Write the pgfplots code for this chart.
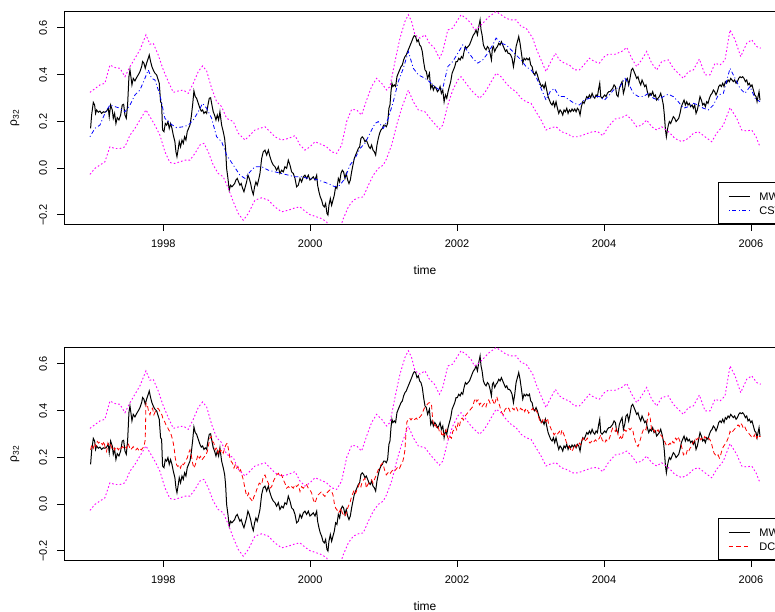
\documentclass[border=0pt]{standalone}
\usepackage{fontspec}
\setmainfont{Liberation Sans}
\usepackage{pgfplots}
\usepackage{pgfplotstable}
\pgfplotsset{compat=1.18}

\definecolor{rmag}{RGB}{255,0,255}
\definecolor{rblue}{RGB}{0,0,255}
\definecolor{rred}{RGB}{255,0,0}

% moving-window estimate (MW)
\pgfplotstableread{
x y
1997.010 0.170
1997.024 0.227
1997.047 0.281
1997.065 0.270
1997.078 0.234
1997.092 0.249
1997.115 0.239
1997.137 0.244
1997.160 0.234
1997.183 0.241
1997.205 0.239
1997.228 0.244
1997.251 0.256
1997.264 0.220
1997.283 0.270
1997.305 0.249
1997.319 0.213
1997.337 0.234
1997.355 0.191
1997.373 0.216
1997.396 0.206
1997.419 0.227
1997.441 0.270
1997.460 0.273
1997.478 0.227
1997.496 0.213
1997.514 0.270
1997.532 0.391
1997.546 0.420
1997.559 0.391
1997.573 0.356
1997.591 0.384
1997.614 0.373
1997.636 0.387
1997.659 0.399
1997.682 0.413
1997.705 0.434
1997.718 0.456
1997.736 0.449
1997.754 0.427
1997.773 0.449
1997.795 0.470
1997.809 0.484
1997.827 0.456
1997.845 0.434
1997.863 0.420
1997.886 0.406
1997.909 0.399
1997.931 0.377
1997.945 0.363
1997.963 0.284
1997.977 0.277
1997.990 0.163
1998.009 0.156
1998.027 0.191
1998.045 0.184
1998.063 0.199
1998.081 0.170
1998.099 0.191
1998.118 0.170
1998.136 0.141
1998.158 0.113
1998.172 0.070
1998.186 0.049
1998.204 0.084
1998.217 0.113
1998.235 0.091
1998.254 0.120
1998.272 0.106
1998.290 0.134
1998.308 0.120
1998.326 0.156
1998.344 0.170
1998.363 0.184
1998.381 0.220
1998.399 0.270
1998.417 0.330
1998.435 0.306
1998.453 0.299
1998.476 0.277
1998.499 0.256
1998.517 0.244
1998.535 0.249
1998.553 0.234
1998.571 0.241
1998.590 0.234
1998.608 0.270
1998.626 0.299
1998.644 0.301
1998.662 0.270
1998.680 0.241
1998.698 0.227
1998.717 0.206
1998.735 0.227
1998.753 0.206
1998.771 0.241
1998.794 0.184
1998.816 0.156
1998.835 0.127
1998.848 0.084
1998.862 -0.001
1998.880 -0.044
1998.898 -0.094
1998.916 -0.073
1998.934 -0.080
1998.953 -0.073
1998.971 -0.066
1998.989 -0.051
1999.007 -0.044
1999.025 -0.059
1999.043 -0.073
1999.061 -0.066
1999.080 -0.087
1999.098 -0.101
1999.116 -0.080
1999.134 -0.059
1999.152 -0.030
1999.170 -0.044
1999.189 -0.066
1999.207 -0.094
1999.225 -0.113
1999.243 -0.080
1999.261 -0.059
1999.279 -0.073
1999.297 -0.051
1999.316 -0.023
1999.339 0.041
1999.361 0.070
1999.384 0.077
1999.407 0.056
1999.430 0.077
1999.452 0.049
1999.475 0.027
1999.498 0.013
1999.520 0.006
1999.543 -0.009
1999.566 0.006
1999.588 -0.023
1999.611 -0.009
1999.634 -0.016
1999.656 0.006
1999.679 -0.001
1999.702 0.034
1999.725 0.013
1999.747 -0.016
1999.770 -0.023
1999.793 -0.044
1999.815 -0.080
1999.838 -0.073
1999.861 -0.044
1999.883 -0.059
1999.906 -0.037
1999.929 -0.030
1999.951 -0.044
1999.974 -0.030
1999.997 -0.051
2000.020 -0.044
2000.042 -0.037
2000.065 -0.051
2000.088 -0.030
2000.101 -0.073
2000.119 -0.101
2000.137 -0.123
2000.156 -0.137
2000.174 -0.159
2000.192 -0.166
2000.210 -0.151
2000.228 -0.194
2000.242 -0.201
2000.255 -0.159
2000.274 -0.130
2000.292 -0.159
2000.310 -0.137
2000.328 -0.116
2000.346 -0.080
2000.364 -0.087
2000.383 -0.044
2000.401 -0.059
2000.419 -0.023
2000.437 -0.009
2000.455 -0.016
2000.473 -0.044
2000.491 -0.023
2000.510 -0.051
2000.528 -0.066
2000.546 -0.051
2000.564 -0.016
2000.582 0.013
2000.600 0.041
2000.619 0.056
2000.637 0.070
2000.655 0.084
2000.673 0.091
2000.691 0.127
2000.709 0.134
2000.727 0.127
2000.746 0.113
2000.764 0.120
2000.782 0.106
2000.800 0.091
2000.818 0.084
2000.836 0.099
2000.855 0.077
2000.873 0.070
2000.891 0.056
2000.909 0.099
2000.927 0.127
2000.945 0.149
2000.963 0.163
2000.982 0.170
2001.000 0.184
2001.018 0.184
2001.036 0.177
2001.054 0.191
2001.072 0.256
2001.086 0.270
2001.100 0.327
2001.113 0.363
2001.127 0.349
2001.145 0.356
2001.163 0.349
2001.181 0.391
2001.199 0.406
2001.218 0.420
2001.236 0.434
2001.254 0.441
2001.272 0.463
2001.290 0.477
2001.308 0.484
2001.326 0.499
2001.345 0.513
2001.363 0.527
2001.381 0.541
2001.399 0.556
2001.417 0.567
2001.435 0.563
2001.454 0.541
2001.472 0.549
2001.490 0.527
2001.508 0.520
2001.526 0.499
2001.544 0.456
2001.563 0.420
2001.581 0.413
2001.599 0.384
2001.623 0.406
2001.641 0.341
2001.659 0.356
2001.677 0.334
2001.696 0.349
2001.714 0.341
2001.732 0.327
2001.750 0.334
2001.768 0.349
2001.786 0.320
2001.805 0.334
2001.823 0.284
2001.841 0.313
2001.859 0.299
2001.877 0.327
2001.895 0.349
2001.913 0.370
2001.932 0.406
2001.950 0.420
2001.968 0.434
2001.986 0.456
2002.004 0.456
2002.022 0.470
2002.041 0.463
2002.059 0.477
2002.077 0.470
2002.095 0.499
2002.113 0.520
2002.131 0.513
2002.149 0.520
2002.168 0.527
2002.186 0.541
2002.204 0.556
2002.222 0.570
2002.240 0.577
2002.258 0.591
2002.277 0.570
2002.295 0.606
2002.313 0.634
2002.326 0.591
2002.340 0.570
2002.358 0.527
2002.376 0.513
2002.394 0.506
2002.413 0.520
2002.431 0.513
2002.449 0.491
2002.467 0.463
2002.481 0.513
2002.494 0.520
2002.512 0.499
2002.531 0.513
2002.549 0.520
2002.567 0.534
2002.585 0.527
2002.603 0.541
2002.621 0.527
2002.640 0.513
2002.658 0.499
2002.676 0.506
2002.694 0.491
2002.712 0.491
2002.730 0.484
2002.748 0.470
2002.767 0.434
2002.785 0.470
2002.803 0.520
2002.821 0.541
2002.839 0.563
2002.857 0.534
2002.876 0.491
2002.894 0.449
2002.912 0.470
2002.930 0.463
2002.948 0.470
2002.966 0.463
2002.985 0.470
2003.003 0.441
2003.021 0.434
2003.039 0.406
2003.057 0.399
2003.075 0.413
2003.093 0.399
2003.112 0.377
2003.130 0.363
2003.148 0.349
2003.166 0.356
2003.184 0.341
2003.202 0.363
2003.220 0.334
2003.239 0.306
2003.257 0.291
2003.275 0.277
2003.293 0.270
2003.311 0.284
2003.329 0.263
2003.347 0.284
2003.366 0.256
2003.384 0.234
2003.402 0.249
2003.420 0.241
2003.438 0.227
2003.456 0.249
2003.474 0.241
2003.493 0.256
2003.511 0.234
2003.529 0.249
2003.547 0.241
2003.565 0.253
2003.583 0.244
2003.602 0.253
2003.620 0.241
2003.638 0.256
2003.656 0.249
2003.674 0.227
2003.692 0.263
2003.711 0.284
2003.729 0.277
2003.747 0.291
2003.765 0.306
2003.783 0.299
2003.801 0.313
2003.819 0.301
2003.838 0.320
2003.856 0.306
2003.874 0.299
2003.892 0.313
2003.910 0.306
2003.928 0.341
2003.942 0.363
2003.956 0.306
2003.974 0.299
2003.992 0.306
2004.010 0.313
2004.028 0.306
2004.046 0.320
2004.065 0.327
2004.082 0.327
2004.100 0.334
2004.118 0.341
2004.137 0.356
2004.155 0.349
2004.173 0.313
2004.191 0.306
2004.209 0.341
2004.227 0.356
2004.246 0.370
2004.264 0.320
2004.282 0.341
2004.300 0.377
2004.318 0.384
2004.336 0.356
2004.354 0.384
2004.373 0.420
2004.391 0.427
2004.409 0.413
2004.427 0.399
2004.445 0.384
2004.463 0.391
2004.481 0.370
2004.500 0.356
2004.518 0.377
2004.536 0.363
2004.554 0.349
2004.572 0.356
2004.590 0.327
2004.609 0.306
2004.627 0.320
2004.645 0.313
2004.663 0.327
2004.681 0.306
2004.699 0.313
2004.717 0.291
2004.736 0.299
2004.754 0.306
2004.772 0.320
2004.790 0.299
2004.808 0.270
2004.822 0.227
2004.835 0.170
2004.849 0.134
2004.863 0.163
2004.876 0.184
2004.890 0.199
2004.908 0.191
2004.926 0.206
2004.944 0.220
2004.963 0.213
2004.981 0.199
2004.999 0.206
2005.017 0.213
2005.035 0.234
2005.053 0.263
2005.071 0.277
2005.090 0.291
2005.108 0.270
2005.126 0.284
2005.144 0.270
2005.162 0.277
2005.180 0.263
2005.199 0.270
2005.217 0.256
2005.235 0.270
2005.253 0.234
2005.271 0.249
2005.289 0.277
2005.307 0.306
2005.326 0.291
2005.344 0.270
2005.362 0.277
2005.380 0.263
2005.398 0.284
2005.416 0.277
2005.435 0.299
2005.453 0.313
2005.471 0.320
2005.489 0.334
2005.507 0.327
2005.525 0.313
2005.543 0.327
2005.562 0.349
2005.580 0.356
2005.598 0.349
2005.616 0.363
2005.634 0.349
2005.652 0.370
2005.670 0.363
2005.689 0.377
2005.707 0.370
2005.725 0.384
2005.743 0.377
2005.761 0.370
2005.779 0.377
2005.798 0.363
2005.816 0.370
2005.834 0.384
2005.852 0.391
2005.870 0.387
2005.888 0.391
2005.906 0.384
2005.925 0.370
2005.943 0.377
2005.961 0.356
2005.979 0.363
2005.997 0.349
2006.015 0.356
2006.034 0.334
2006.052 0.313
2006.070 0.306
2006.084 0.284
2006.097 0.306
2006.111 0.327
2006.124 0.291
}\mwdata

% CS estimate
\pgfplotstableread{
x y
1997.001 0.134
1997.069 0.170
1997.137 0.184
1997.205 0.234
1997.273 0.270
1997.342 0.263
1997.410 0.256
1997.478 0.241
1997.546 0.270
1997.614 0.313
1997.682 0.334
1997.750 0.384
1997.795 0.420
1997.841 0.384
1997.886 0.377
1997.954 0.313
1998.022 0.213
1998.090 0.191
1998.181 0.173
1998.272 0.177
1998.340 0.184
1998.408 0.206
1998.476 0.241
1998.535 0.277
1998.590 0.256
1998.658 0.213
1998.726 0.134
1998.794 0.113
1998.862 0.056
1998.953 0.013
1999.043 -0.030
1999.112 -0.044
1999.180 -0.016
1999.248 0.006
1999.339 0.006
1999.430 -0.009
1999.520 -0.016
1999.611 -0.023
1999.702 -0.030
1999.793 -0.037
1999.883 -0.037
1999.974 -0.044
2000.065 -0.047
2000.156 -0.056
2000.246 -0.066
2000.337 -0.080
2000.405 -0.073
2000.473 -0.044
2000.541 0.013
2000.610 0.041
2000.678 0.084
2000.746 0.106
2000.814 0.149
2000.882 0.191
2000.927 0.199
2000.995 0.170
2001.063 0.213
2001.131 0.284
2001.199 0.370
2001.268 0.427
2001.336 0.499
2001.404 0.427
2001.472 0.399
2001.563 0.384
2001.623 0.370
2001.691 0.349
2001.759 0.334
2001.805 0.341
2001.873 0.434
2001.941 0.456
2002.009 0.491
2002.077 0.527
2002.145 0.499
2002.213 0.470
2002.281 0.449
2002.349 0.463
2002.417 0.491
2002.485 0.527
2002.531 0.556
2002.599 0.534
2002.667 0.527
2002.735 0.506
2002.803 0.484
2002.871 0.463
2002.939 0.434
2003.007 0.420
2003.075 0.391
2003.143 0.341
2003.211 0.291
2003.266 0.327
2003.325 0.341
2003.393 0.306
2003.461 0.306
2003.529 0.291
2003.597 0.277
2003.665 0.270
2003.733 0.291
2003.801 0.299
2003.869 0.306
2003.937 0.306
2004.005 0.291
2004.074 0.313
2004.128 0.334
2004.218 0.349
2004.286 0.384
2004.332 0.363
2004.400 0.320
2004.468 0.306
2004.536 0.306
2004.604 0.320
2004.672 0.299
2004.740 0.291
2004.808 0.306
2004.876 0.316
2004.944 0.306
2005.012 0.284
2005.081 0.256
2005.149 0.263
2005.217 0.277
2005.285 0.270
2005.353 0.256
2005.421 0.249
2005.489 0.270
2005.557 0.313
2005.625 0.320
2005.716 0.427
2005.784 0.384
2005.852 0.341
2005.920 0.320
2005.988 0.349
2006.056 0.299
2006.124 0.284
}\csdata

% DCC estimate
\pgfplotstableread{
x y
1997.010 0.232
1997.028 0.254
1997.047 0.239
1997.065 0.261
1997.083 0.246
1997.101 0.268
1997.119 0.261
1997.137 0.268
1997.155 0.261
1997.174 0.254
1997.192 0.268
1997.210 0.239
1997.228 0.225
1997.246 0.261
1997.264 0.246
1997.283 0.254
1997.301 0.239
1997.319 0.246
1997.337 0.232
1997.355 0.246
1997.373 0.239
1997.391 0.232
1997.410 0.246
1997.428 0.239
1997.446 0.246
1997.464 0.239
1997.482 0.246
1997.500 0.239
1997.518 0.261
1997.537 0.246
1997.555 0.232
1997.573 0.239
1997.591 0.246
1997.609 0.239
1997.627 0.232
1997.646 0.239
1997.664 0.232
1997.682 0.239
1997.700 0.232
1997.718 0.239
1997.736 0.246
1997.754 0.275
1997.764 0.432
1997.782 0.425
1997.800 0.396
1997.818 0.382
1997.836 0.403
1997.854 0.410
1997.872 0.382
1997.891 0.396
1997.909 0.403
1997.927 0.410
1997.945 0.403
1997.963 0.389
1997.981 0.382
1998.000 0.360
1998.018 0.353
1998.036 0.339
1998.054 0.332
1998.072 0.318
1998.090 0.311
1998.108 0.296
1998.127 0.275
1998.145 0.246
1998.163 0.197
1998.181 0.168
1998.199 0.161
1998.217 0.168
1998.235 0.154
1998.254 0.175
1998.272 0.168
1998.290 0.175
1998.308 0.189
1998.326 0.197
1998.344 0.218
1998.363 0.232
1998.381 0.211
1998.399 0.175
1998.417 0.154
1998.435 0.168
1998.453 0.189
1998.472 0.211
1998.490 0.197
1998.508 0.204
1998.526 0.189
1998.544 0.197
1998.562 0.204
1998.580 0.211
1998.599 0.225
1998.617 0.254
1998.635 0.282
1998.653 0.289
1998.671 0.268
1998.689 0.261
1998.707 0.232
1998.726 0.239
1998.744 0.218
1998.762 0.239
1998.780 0.225
1998.798 0.232
1998.816 0.218
1998.835 0.239
1998.853 0.254
1998.871 0.261
1998.889 0.232
1998.907 0.197
1998.925 0.182
1998.943 0.175
1998.962 0.154
1998.980 0.168
1998.998 0.154
1999.016 0.161
1999.034 0.140
1999.052 0.147
1999.071 0.125
1999.089 0.104
1999.107 0.075
1999.125 0.047
1999.143 0.033
1999.161 0.047
1999.179 0.026
1999.198 0.019
1999.216 0.011
1999.234 0.033
1999.252 0.040
1999.270 0.061
1999.288 0.075
1999.306 0.090
1999.339 0.083
1999.361 0.118
1999.384 0.125
1999.407 0.104
1999.430 0.090
1999.452 0.068
1999.475 0.075
1999.498 0.097
1999.520 0.111
1999.543 0.125
1999.566 0.132
1999.588 0.118
1999.611 0.125
1999.634 0.104
1999.656 0.090
1999.679 0.068
1999.702 0.075
1999.725 0.068
1999.747 0.075
1999.770 0.068
1999.793 0.083
1999.815 0.075
1999.838 0.083
1999.861 0.054
1999.883 0.075
1999.906 0.068
1999.929 0.075
1999.951 0.083
1999.974 0.068
1999.997 0.061
2000.020 0.047
2000.042 0.019
2000.065 0.004
2000.088 0.026
2000.110 0.040
2000.133 0.047
2000.156 0.054
2000.178 0.040
2000.201 0.033
2000.224 0.047
2000.246 0.054
2000.269 0.061
2000.292 0.054
2000.310 0.040
2000.328 0.004
2000.346 -0.017
2000.364 -0.024
2000.383 -0.038
2000.401 -0.031
2000.419 -0.017
2000.437 -0.038
2000.455 -0.046
2000.473 -0.053
2000.491 -0.038
2000.510 -0.017
2000.528 -0.003
2000.546 0.011
2000.564 0.033
2000.582 0.047
2000.600 0.061
2000.619 0.047
2000.637 0.061
2000.655 0.075
2000.673 0.090
2000.691 0.075
2000.709 0.097
2000.727 0.104
2000.746 0.111
2000.764 0.068
2000.782 0.083
2000.800 0.090
2000.818 0.097
2000.836 0.104
2000.855 0.090
2000.873 0.104
2000.891 0.118
2000.909 0.132
2000.927 0.147
2000.945 0.154
2000.963 0.168
2000.982 0.175
2001.000 0.161
2001.018 0.140
2001.036 0.125
2001.054 0.132
2001.072 0.140
2001.091 0.132
2001.109 0.140
2001.127 0.147
2001.145 0.140
2001.163 0.147
2001.181 0.154
2001.199 0.161
2001.218 0.154
2001.236 0.168
2001.254 0.175
2001.272 0.197
2001.290 0.232
2001.304 0.303
2001.317 0.353
2001.336 0.360
2001.354 0.368
2001.372 0.360
2001.390 0.368
2001.408 0.360
2001.426 0.363
2001.445 0.368
2001.463 0.360
2001.481 0.368
2001.499 0.375
2001.517 0.382
2001.535 0.396
2001.553 0.410
2001.572 0.417
2001.590 0.425
2001.608 0.432
2001.623 0.434
2001.650 0.432
2001.668 0.360
2001.687 0.332
2001.705 0.339
2001.723 0.325
2001.741 0.332
2001.759 0.311
2001.777 0.318
2001.795 0.289
2001.814 0.303
2001.832 0.296
2001.850 0.318
2001.868 0.289
2001.886 0.275
2001.904 0.289
2001.923 0.282
2001.941 0.311
2001.959 0.318
2001.977 0.332
2001.995 0.318
2002.013 0.346
2002.031 0.332
2002.050 0.360
2002.068 0.368
2002.086 0.360
2002.104 0.375
2002.122 0.382
2002.140 0.389
2002.159 0.396
2002.177 0.403
2002.195 0.410
2002.213 0.417
2002.231 0.439
2002.249 0.453
2002.267 0.439
2002.286 0.446
2002.304 0.425
2002.322 0.432
2002.340 0.417
2002.358 0.425
2002.376 0.432
2002.394 0.417
2002.413 0.439
2002.431 0.446
2002.449 0.432
2002.467 0.439
2002.485 0.446
2002.503 0.425
2002.522 0.439
2002.540 0.460
2002.558 0.439
2002.576 0.425
2002.594 0.403
2002.612 0.389
2002.630 0.382
2002.649 0.403
2002.667 0.410
2002.685 0.403
2002.703 0.410
2002.721 0.396
2002.739 0.403
2002.758 0.410
2002.776 0.403
2002.794 0.417
2002.812 0.410
2002.830 0.396
2002.848 0.403
2002.866 0.410
2002.885 0.403
2002.903 0.410
2002.921 0.396
2002.939 0.410
2002.957 0.403
2002.975 0.389
2002.994 0.396
2003.012 0.403
2003.030 0.410
2003.048 0.396
2003.066 0.403
2003.084 0.396
2003.103 0.382
2003.121 0.360
2003.139 0.346
2003.157 0.353
2003.175 0.368
2003.193 0.360
2003.211 0.353
2003.230 0.368
2003.248 0.339
2003.266 0.332
2003.284 0.318
2003.302 0.311
2003.320 0.296
2003.338 0.303
2003.357 0.296
2003.375 0.303
2003.393 0.311
2003.411 0.296
2003.429 0.318
2003.447 0.303
2003.465 0.289
2003.484 0.268
2003.502 0.254
2003.520 0.246
2003.538 0.239
2003.556 0.225
2003.574 0.232
2003.593 0.246
2003.611 0.239
2003.629 0.254
2003.647 0.246
2003.665 0.261
2003.683 0.254
2003.701 0.275
2003.720 0.282
2003.738 0.268
2003.756 0.275
2003.774 0.282
2003.792 0.268
2003.810 0.261
2003.829 0.268
2003.847 0.275
2003.865 0.268
2003.883 0.275
2003.901 0.268
2003.919 0.275
2003.937 0.282
2003.956 0.296
2003.974 0.275
2003.992 0.268
2004.010 0.261
2004.028 0.275
2004.046 0.268
2004.065 0.275
2004.082 0.289
2004.100 0.311
2004.118 0.325
2004.137 0.318
2004.155 0.311
2004.173 0.325
2004.191 0.296
2004.209 0.282
2004.227 0.289
2004.246 0.275
2004.264 0.303
2004.282 0.318
2004.300 0.311
2004.318 0.318
2004.336 0.325
2004.354 0.318
2004.373 0.325
2004.391 0.318
2004.409 0.289
2004.427 0.268
2004.445 0.254
2004.463 0.246
2004.481 0.261
2004.500 0.282
2004.518 0.303
2004.536 0.318
2004.554 0.325
2004.572 0.318
2004.590 0.360
2004.609 0.389
2004.627 0.375
2004.645 0.325
2004.663 0.311
2004.681 0.318
2004.699 0.303
2004.717 0.311
2004.736 0.318
2004.754 0.303
2004.772 0.296
2004.790 0.289
2004.808 0.275
2004.826 0.268
2004.844 0.254
2004.863 0.261
2004.881 0.254
2004.899 0.261
2004.917 0.254
2004.935 0.268
2004.953 0.261
2004.972 0.282
2004.990 0.275
2005.008 0.289
2005.026 0.275
2005.044 0.261
2005.062 0.239
2005.081 0.211
2005.099 0.218
2005.117 0.211
2005.135 0.232
2005.153 0.225
2005.171 0.239
2005.189 0.246
2005.208 0.261
2005.226 0.268
2005.244 0.282
2005.262 0.275
2005.280 0.282
2005.298 0.289
2005.317 0.275
2005.335 0.282
2005.353 0.275
2005.371 0.289
2005.389 0.282
2005.407 0.275
2005.425 0.282
2005.444 0.275
2005.462 0.261
2005.480 0.239
2005.498 0.218
2005.516 0.211
2005.534 0.204
2005.553 0.211
2005.571 0.197
2005.589 0.211
2005.607 0.232
2005.625 0.246
2005.643 0.254
2005.661 0.261
2005.680 0.275
2005.698 0.289
2005.716 0.311
2005.734 0.303
2005.752 0.311
2005.770 0.318
2005.789 0.325
2005.807 0.332
2005.825 0.339
2005.843 0.332
2005.861 0.346
2005.879 0.339
2005.897 0.325
2005.916 0.332
2005.934 0.318
2005.952 0.311
2005.970 0.303
2005.988 0.296
2006.006 0.289
2006.024 0.296
2006.043 0.289
2006.061 0.303
2006.079 0.282
2006.097 0.296
2006.115 0.289
2006.133 0.289
}\dccdata

% upper band
\pgfplotstableread{
x y
1997.001 0.324
1997.137 0.356
1997.205 0.363
1997.273 0.441
1997.342 0.430
1997.410 0.427
1997.478 0.391
1997.546 0.434
1997.614 0.470
1997.682 0.506
1997.764 0.570
1997.818 0.530
1997.863 0.534
1997.931 0.484
1998.000 0.420
1998.068 0.370
1998.136 0.324
1998.204 0.330
1998.272 0.334
1998.340 0.320
1998.408 0.363
1998.476 0.413
1998.535 0.437
1998.590 0.416
1998.658 0.341
1998.726 0.284
1998.794 0.263
1998.862 0.213
1998.953 0.199
1999.021 0.149
1999.112 0.120
1999.180 0.141
1999.248 0.163
1999.316 0.170
1999.384 0.177
1999.452 0.156
1999.520 0.134
1999.611 0.120
1999.702 0.127
1999.793 0.139
1999.861 0.099
1999.929 0.077
1999.997 0.091
2000.065 0.113
2000.156 0.101
2000.224 0.091
2000.292 0.070
2000.360 0.063
2000.428 0.099
2000.496 0.199
2000.564 0.251
2000.632 0.249
2000.700 0.227
2000.768 0.291
2000.836 0.349
2000.904 0.384
2000.973 0.363
2001.041 0.334
2001.086 0.349
2001.154 0.456
2001.222 0.556
2001.290 0.627
2001.336 0.656
2001.381 0.627
2001.426 0.570
2001.494 0.556
2001.563 0.570
2001.623 0.534
2001.691 0.513
2001.759 0.470
2001.805 0.499
2001.873 0.591
2001.941 0.599
2002.009 0.634
2002.054 0.656
2002.122 0.641
2002.190 0.620
2002.236 0.591
2002.281 0.599
2002.349 0.620
2002.440 0.649
2002.531 0.670
2002.599 0.656
2002.667 0.641
2002.735 0.634
2002.803 0.634
2002.871 0.606
2002.939 0.599
2002.985 0.577
2003.030 0.556
2003.075 0.513
2003.143 0.463
2003.211 0.413
2003.266 0.449
2003.338 0.491
2003.393 0.463
2003.461 0.449
2003.529 0.441
2003.597 0.420
2003.665 0.420
2003.733 0.444
2003.801 0.470
2003.869 0.456
2003.937 0.449
2004.005 0.477
2004.059 0.487
2004.150 0.487
2004.241 0.499
2004.309 0.516
2004.377 0.470
2004.445 0.434
2004.513 0.463
2004.581 0.499
2004.649 0.449
2004.718 0.420
2004.786 0.456
2004.876 0.463
2004.944 0.427
2005.012 0.406
2005.081 0.384
2005.149 0.413
2005.217 0.420
2005.298 0.467
2005.375 0.399
2005.444 0.399
2005.512 0.449
2005.580 0.441
2005.648 0.463
2005.716 0.591
2005.784 0.549
2005.861 0.477
2005.943 0.534
2006.011 0.549
2006.079 0.520
2006.133 0.513
}\updata

% lower band
\pgfplotstableread{
x y
1997.001 -0.027
1997.069 -0.001
1997.137 0.013
1997.205 0.027
1997.273 0.091
1997.342 0.084
1997.410 0.084
1997.478 0.091
1997.546 0.141
1997.614 0.170
1997.682 0.206
1997.764 0.249
1997.818 0.220
1997.886 0.184
1997.954 0.141
1998.022 0.070
1998.090 0.024
1998.158 0.020
1998.226 0.027
1998.295 0.034
1998.363 0.034
1998.431 0.063
1998.499 0.099
1998.553 0.106
1998.612 0.070
1998.680 0.013
1998.748 -0.023
1998.816 -0.037
1998.885 -0.087
1998.953 -0.144
1999.021 -0.194
1999.089 -0.223
1999.157 -0.194
1999.225 -0.151
1999.248 -0.137
1999.339 -0.127
1999.430 -0.137
1999.520 -0.166
1999.611 -0.187
1999.702 -0.180
1999.793 -0.170
1999.861 -0.166
1999.929 -0.184
1999.997 -0.199
2000.065 -0.206
2000.156 -0.216
2000.224 -0.230
2000.269 -0.259
2000.337 -0.287
2000.405 -0.259
2000.451 -0.216
2000.519 -0.166
2000.587 -0.137
2000.655 -0.127
2000.723 -0.123
2000.791 -0.073
2000.859 -0.030
2000.927 -0.001
2000.995 0.013
2001.041 0.041
2001.109 0.099
2001.177 0.184
2001.245 0.256
2001.336 0.334
2001.404 0.284
2001.472 0.249
2001.563 0.241
2001.631 0.213
2001.691 0.191
2001.759 0.167
2001.805 0.184
2001.873 0.270
2001.941 0.334
2002.009 0.377
2002.054 0.391
2002.122 0.363
2002.190 0.334
2002.258 0.313
2002.304 0.299
2002.372 0.320
2002.440 0.356
2002.531 0.406
2002.599 0.391
2002.667 0.363
2002.735 0.341
2002.803 0.327
2002.871 0.299
2002.939 0.284
2003.007 0.277
2003.075 0.241
2003.143 0.206
2003.211 0.163
2003.280 0.173
2003.348 0.177
2003.416 0.156
2003.484 0.149
2003.575 0.134
2003.643 0.134
2003.711 0.141
2003.779 0.149
2003.847 0.156
2003.915 0.156
2003.983 0.139
2004.059 0.177
2004.150 0.210
2004.241 0.216
2004.309 0.227
2004.377 0.206
2004.445 0.177
2004.513 0.184
2004.581 0.206
2004.649 0.177
2004.718 0.163
2004.786 0.177
2004.876 0.156
2004.967 0.127
2005.058 0.113
2005.149 0.127
2005.217 0.149
2005.285 0.156
2005.375 0.134
2005.466 0.113
2005.534 0.149
2005.625 0.184
2005.716 0.259
2005.807 0.213
2005.875 0.163
2005.943 0.159
2006.011 0.163
2006.070 0.134
2006.124 0.091
}\lodata

\pgfplotsset{
  rpanel/.style={
    scale only axis, width=722bp, height=212.5bp,
    xmin=1996.648, xmax=2006.478, ymin=-0.239, ymax=0.670,
    axis line style={line width=0.8bp, black},
    xtick={1998,2000,2002,2004,2006},
    xticklabels={1998,2000,2002,2004,2006},
    ytick={-0.2,0,0.2,0.4,0.6},
    yticklabels={−0.2,0.0,0.2,0.4,0.6},
    tick align=outside, xtick pos=left, ytick pos=left,
    major tick length=7bp,
    every tick/.style={black, line width=0.8bp},
    tick label style={font=\fontsize{11bp}{13bp}\selectfont},
    xticklabel style={anchor=center, yshift=-12.7bp},
    yticklabel style={anchor=center, xshift=-14bp, rotate=90},
    xlabel={time},
    ylabel={ρ\textsubscript{32}},
    every axis x label/.style={at={(rel axis cs:0.5,0)}, yshift=-46bp, anchor=center, font=\fontsize{12bp}{14bp}\selectfont},
    every axis y label/.style={at={(rel axis cs:0,0.5)}, xshift=-49bp, rotate=90, anchor=center, font=\fontsize{12bp}{14bp}\selectfont},
    legend style={at={(rel axis cs:0.9062,0)}, anchor=south west, draw=black, line width=0.8bp, fill=white,
      inner xsep=9.7bp, inner ysep=8.35bp, row sep=4bp,
      font=\fontsize{11bp}{13bp}\selectfont,
      nodes={inner sep=1bp, text height=8bp, text depth=0bp},
      /tikz/every odd column/.append style={column sep=8bp}},
    legend cell align=left,
    every axis plot/.append style={line width=0.8bp},
  },
  mwline/.style={black, solid, line width=1bp},
  bandline/.style={rmag, line width=0.9bp, dash pattern=on 1.6bp off 2.2bp},
  csline/.style={rblue, dash pattern=on 1bp off 2.5bp on 4bp off 2.5bp},
  dccline/.style={rred, dash pattern=on 4.5bp off 3bp},
  legend image code/.code={\draw[#1] (0bp,0bp) -- (21bp,0bp);},
}

\begin{document}
\begin{tikzpicture}
\useasboundingbox (0bp,0bp) rectangle (775bp,612bp);
\begin{axis}[rpanel, at={(64bp,388bp)}, anchor=south west]
  \addplot[mwline] table {\mwdata};
  \addlegendentry{MW}
  \addplot[csline] table {\csdata};
  \addlegendentry{CSV}
  \addplot[bandline, forget plot] table {\updata};
  \addplot[bandline, forget plot] table {\lodata};
\end{axis}
\begin{axis}[rpanel, at={(64bp,52bp)}, anchor=south west]
  \addplot[mwline] table {\mwdata};
  \addlegendentry{MW}
  \addplot[dccline] table {\dccdata};
  \addlegendentry{DCC}
  \addplot[bandline, forget plot] table {\updata};
  \addplot[bandline, forget plot] table {\lodata};
\end{axis}
\end{tikzpicture}
\end{document}
